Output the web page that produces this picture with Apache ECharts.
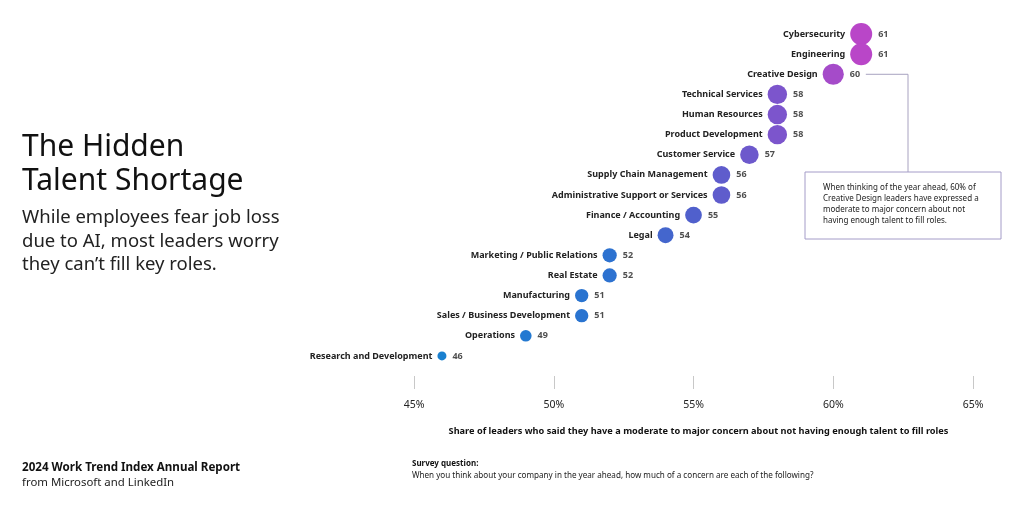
<!DOCTYPE html>
<html>
<head>
<meta charset="utf-8">
<script src="https://cdn.jsdelivr.net/npm/echarts@6/dist/echarts.min.js"></script>
<style>
html,body{margin:0;padding:0;background:#fff;}
#c{width:1024px;height:506px;}
</style>
</head>
<body>
<div id="c"></div>
<script>
const categories = ['Cybersecurity','Engineering','Creative Design','Technical Services','Human Resources','Product Development','Customer Service','Supply Chain Management','Administrative Support or Services','Finance / Accounting','Legal','Marketing / Public Relations','Real Estate','Manufacturing','Sales / Business Development','Operations','Research and Development'];
const values = [61,61,60,58,58,58,57,56,56,55,54,52,52,51,51,49,46];
const xTicks = [45,50,55,60,65];
const axisTitle = 'Share of leaders who said they have a moderate to major concern about not having enough talent to fill roles';
const annotationLines = ['When thinking of the year ahead, 60% of','Creative Design leaders have expressed a','moderate to major concern about not','having enough talent to fill roles.'];
const annotatedIndex = 2;

const FONT = '"Noto Sans", "Open Sans", sans-serif';
const chart = echarts.init(document.getElementById('c'));
const pts = values.map((v,i)=>[v, categories[i]]);
const sizeOf = v => 9 + (v - 46) * (13/15);

const baseGraphics = [
  {type:'text', left:22, top:130, style:{text:'The Hidden\nTalent Shortage', font:'30px '+FONT, fill:'#111', lineHeight:34}},
  {type:'text', left:22, top:206, style:{text:'While employees fear job loss\ndue to AI, most leaders worry\nthey can\u2019t fill key roles.', font:'18.5px '+FONT, fill:'#222', lineHeight:23.5}},
  {type:'text', left:22, top:462, style:{text:'2024 Work Trend Index Annual Report', font:'bold 11.6px '+FONT, fill:'#111'}},
  {type:'text', left:22, top:477, style:{text:'from Microsoft and LinkedIn', font:'11.4px '+FONT, fill:'#222'}},
  {type:'text', left:412, top:460, style:{text:'Survey question:', font:'bold 8px '+FONT, fill:'#111'}},
  {type:'text', left:412, top:472, style:{text:'When you think about your company in the year ahead, how much of a concern are each of the following?', font:'8.1px '+FONT, fill:'#222'}},
  {type:'rect', z:10, shape:{x:805,y:172,width:196,height:67}, style:{stroke:'#a49cc8', lineWidth:1, fill:'#fff'}},
  {type:'text', z:11, left:823, top:182, style:{text:annotationLines.join('\n'), font:'8px '+FONT, fill:'#222', lineHeight:11}}
];

chart.setOption({
  backgroundColor:'#fff',
  animation:false,
  textStyle:{fontFamily:FONT},
  grid:{left:414, right:51, top:24, bottom:140},
  xAxis:{
    type:'value', min:xTicks[0], max:xTicks[xTicks.length-1], interval:5,
    offset:10,
    axisLine:{show:false},
    axisTick:{show:true, length:13, lineStyle:{color:'#c8c8c8'}},
    splitLine:{show:false},
    axisLabel:{margin:24, fontSize:10.5, color:'#222', fontFamily:FONT, formatter:v=>v+'%'},
    name:axisTitle, nameLocation:'middle', nameGap:51,
    nameTextStyle:{fontSize:9.2, fontWeight:'bold', color:'#111', fontFamily:FONT, padding:[0,0,0,10]}
  },
  yAxis:{type:'category', data:categories, inverse:true, show:false},
  visualMap:{
    type:'continuous', show:false, dimension:0, min:46, max:61, seriesIndex:0,
    inRange:{color:['#1a80cf','#2379d1','#2d72d0','#5060cc','#7c55cc','#b946c8']}
  },
  series:[
    {
      type:'scatter', data:pts, symbolSize:d=>sizeOf(d[0]),
      itemStyle:{opacity:1},
      label:{show:true, position:'left', distance:5, fontSize:9, fontWeight:'bold', color:'#222', fontFamily:FONT,
        formatter:p=>categories[p.dataIndex]},
      emphasis:{disabled:true}
    },
    {
      type:'scatter', data:pts, symbolSize:d=>sizeOf(d[0]), silent:true,
      itemStyle:{color:'rgba(0,0,0,0)'},
      label:{show:true, position:'right', distance:6, fontSize:9, fontWeight:'bold', color:'#222', fontFamily:FONT,
        formatter:p=>String(values[p.dataIndex])}
    }
  ],
  graphic:baseGraphics
});

// connector from the annotated point's value label to the note box
const p = chart.convertToPixel({seriesIndex:0}, pts[annotatedIndex]);
const sx = p[0] + sizeOf(values[annotatedIndex])/2 + 22;
chart.setOption({graphic:baseGraphics.concat([
  {type:'polyline', z:9, shape:{points:[[sx,p[1]],[908,p[1]],[908,172]]}, style:{stroke:'#a8a2c0', lineWidth:1, fill:null}}
])});
</script>
</body>
</html>
